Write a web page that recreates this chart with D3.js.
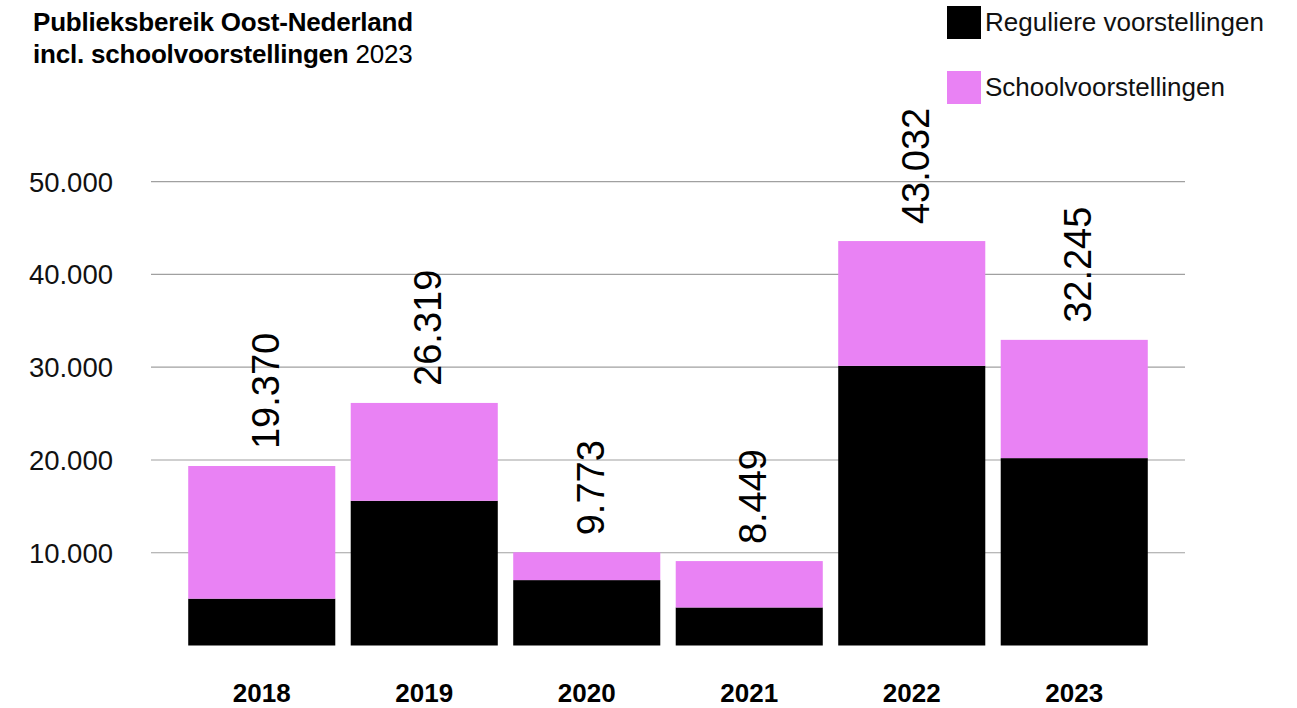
<!doctype html>
<html>
  <head>
    <meta charset="utf-8">
    <title>Publieksbereik Oost-Nederland</title>
    <script src="https://cdnjs.cloudflare.com/ajax/libs/d3/7.8.5/d3.min.js"></script>
    <style>
      body { margin: 0; background: #fff; }
      svg { display: block; font-family: "Liberation Sans", Arial, sans-serif; }
    </style>
  </head>
  <body>
    <div id="chart"></div>
    <script>
      // jaren en waarden
      const jaren = ['2018', '2019', '2020', '2021', '2022', '2023'];
      const regulier = [5050, 15600, 7050, 4100, 30150, 20200];
      const school = [14300, 10550, 3000, 5000, 13450, 12750];
      const totaalLabels = ['19.370', '26.319', '9.773', '8.449', '43.032', '32.245'];
      const ticks = [10000, 20000, 30000, 40000, 50000];
      const tickLabels = ['10.000', '20.000', '30.000', '40.000', '50.000'];
      const series = ['Reguliere voorstellingen', 'Schoolvoorstellingen'];
      const kleuren = ['#000000', '#e982f4'];

      const rows = jaren.map((j, i) => ({ jaar: j, regulier: regulier[i], school: school[i] }));

      const svg = d3.select('#chart').append('svg')
        .attr('width', 1297)
        .attr('height', 708);

      const x = d3.scaleBand().domain(jaren).range([180.5, 1155.5])
        .paddingInner(0.095).paddingOuter(0.0475);
      const y = d3.scaleLinear().domain([0, 50000]).range([645.5, 181.7]);

      // gridlijnen
      svg.append('g').selectAll('line').data(ticks).join('line')
        .attr('x1', 151).attr('x2', 1185)
        .attr('y1', d => y(d)).attr('y2', d => y(d))
        .attr('stroke', '#a0a0a0').attr('stroke-width', 1.2);

      svg.append('g').selectAll('text').data(ticks).join('text')
        .attr('x', 113).attr('y', d => y(d))
        .attr('dy', '0.36em')
        .attr('text-anchor', 'end')
        .style('font-size', '27.5px').style('fill', '#111')
        .text((d, i) => tickLabels[i]);

      // gestapelde balken
      const stack = d3.stack().keys(['regulier', 'school'])(rows);
      svg.append('g').selectAll('g').data(stack).join('g')
        .attr('fill', (d, i) => kleuren[i])
        .selectAll('rect').data(d => d).join('rect')
        .attr('x', d => x(d.data.jaar))
        .attr('width', x.bandwidth())
        .attr('y', d => y(d[1]))
        .attr('height', d => y(d[0]) - y(d[1]));

      // totalen, gedraaid
      svg.append('g').selectAll('text').data(rows).join('text')
        .attr('transform', d => `translate(${x(d.jaar) + x.bandwidth() / 2 + 17},${y(d.regulier + d.school) - 17}) rotate(-90)`)
        .style('font-size', '38px').style('fill', '#000')
        .text((d, i) => totaalLabels[i]);

      // jaartallen
      svg.append('g').selectAll('text').data(jaren).join('text')
        .attr('x', d => x(d) + x.bandwidth() / 2)
        .attr('y', 702)
        .attr('text-anchor', 'middle')
        .style('font-size', '26px').style('font-weight', 'bold')
        .text(d => d);

      // titel
      svg.append('text').attr('x', 33).attr('y', 31)
        .style('font-size', '26px').style('font-weight', 'bold').style('letter-spacing', '-0.2px')
        .text('Publieksbereik Oost-Nederland');
      const t2 = svg.append('text').attr('x', 33).attr('y', 63)
        .style('font-size', '26px').style('letter-spacing', '-0.2px');
      t2.append('tspan').style('font-weight', 'bold').text('incl. schoolvoorstellingen');
      t2.append('tspan').text(' 2023');

      // legenda
      const leg = svg.append('g').selectAll('g').data(series).join('g')
        .attr('transform', (d, i) => `translate(947,${6 + i * 65})`);
      leg.append('rect').attr('width', 34).attr('height', 33)
        .attr('fill', (d, i) => kleuren[i]);
      leg.append('text').attr('x', 38).attr('y', 25)
        .style('font-size', '26px').style('fill', '#111')
        .text(d => d);
    </script>
  </body>
</html>
